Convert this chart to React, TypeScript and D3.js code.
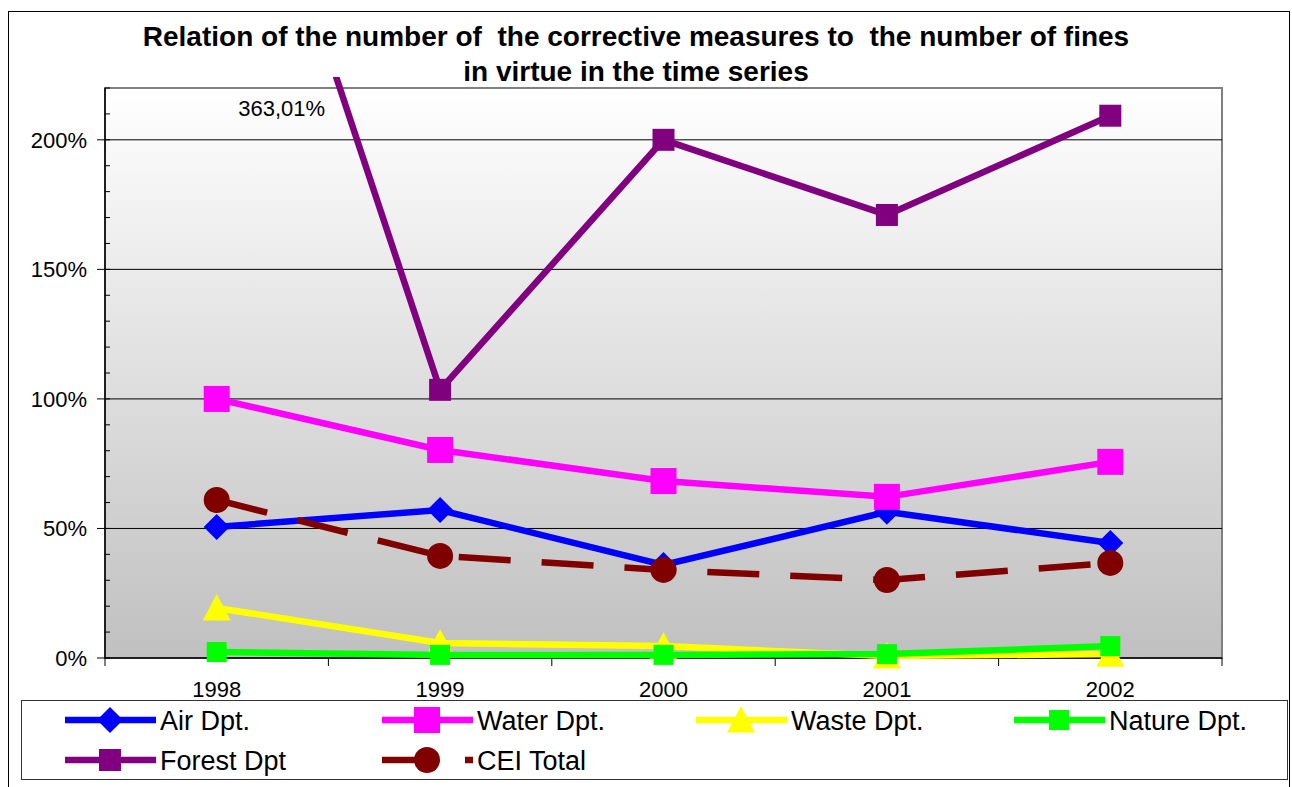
import React from 'react';
import * as d3 from 'd3';

const years = ['1998', '1999', '2000', '2001', '2002'];
const airDpt = [0.506, 0.571, 0.359, 0.564, 0.444];
const waterDpt = [1.0, 0.803, 0.683, 0.622, 0.757];
const wasteDpt = [0.193, 0.058, 0.046, 0.008, 0.015];
const natureDpt = [0.023, 0.012, 0.012, 0.015, 0.046];
const forestDpt = [3.6301, 1.035, 2.0, 1.71, 2.093];
const ceiTotal = [0.61, 0.394, 0.34, 0.301, 0.367];
const yTicks = [0, 0.5, 1, 1.5, 2];

const FONT = '"Liberation Sans", Arial, sans-serif';

type Shape = 'diamond' | 'square' | 'triangle' | 'circle';
const series: { name: string; values: number[]; color: string; shape: Shape; size: number; dash?: string }[] = [
  { name: 'Air Dpt.', values: airDpt, color: '#0000ff', shape: 'diamond', size: 26 },
  { name: 'Water Dpt.', values: waterDpt, color: '#ff00ff', shape: 'square', size: 26 },
  { name: 'Waste Dpt.', values: wasteDpt, color: '#ffff00', shape: 'triangle', size: 28 },
  { name: 'Nature Dpt.', values: natureDpt, color: '#00ff00', shape: 'square', size: 20 },
  { name: 'Forest Dpt', values: forestDpt, color: '#800080', shape: 'square', size: 22 },
  { name: 'CEI Total', values: ceiTotal, color: '#800000', shape: 'circle', size: 26, dash: '52 31' },
];

const Marker = ({ x, y, shape, size, color }: { x: number; y: number; shape: Shape; size: number; color: string }) => {
  const h = size / 2;
  if (shape === 'circle') return <circle cx={x} cy={y} r={h} fill={color} />;
  if (shape === 'square') return <rect x={x - h} y={y - h} width={size} height={size} fill={color} />;
  if (shape === 'diamond')
    return <path d={`M${x},${y - h}L${x + h},${y}L${x},${y + h}L${x - h},${y}Z`} fill={color} />;
  return <path d={`M${x},${y - h}L${x + h},${y + h * 0.9}L${x - h},${y + h * 0.9}Z`} fill={color} />;
};

export default function App() {
  const width = 1292;
  const height = 787;
  const plot = { left: 105, right: 1222, top: 88, bottom: 658 };

  const x = d3.scaleBand<string>().domain(years).range([plot.left, plot.right]).paddingInner(0).paddingOuter(0);
  const cx = (d: string) => (x(d) as number) + x.bandwidth() / 2;
  const y = d3.scaleLinear().domain([0, 2.2]).range([plot.bottom, plot.top]);
  const minorTicks = d3.range(0, 2.21, 0.1);

  const line = d3
    .line<number>()
    .x((_, i) => cx(years[i]))
    .y((d) => y(d));

  const fmt = (v: number) => (v * 100).toFixed(2).replace('.', ',') + '%';

  const legendRows = [
    [0, 1, 2, 3],
    [4, 5],
  ];
  const legendCols = [65, 382, 696, 1014];

  return (
    <svg width={width} height={height} style={{ position: 'absolute', left: 0, top: 0 }} fontFamily={FONT}>
      <defs>
        <linearGradient id="bg" x1="0" y1="0" x2="0" y2="1">
          <stop offset="0%" stopColor="#ffffff" />
          <stop offset="100%" stopColor="#c0c0c0" />
        </linearGradient>
        <clipPath id="clip">
          <rect x={0} y={77} width={width} height={height - 77} />
        </clipPath>
      </defs>
      <rect x={0} y={0} width={width} height={height} fill="#fff" />
      <rect x={8.5} y={11.5} width={1281} height={790} fill="#fff" stroke="#000" strokeWidth={1} />

      <text x={636} y={46} textAnchor="middle" fontWeight="bold" fontSize={28} style={{ whiteSpace: 'pre' }}>
        Relation of the number of  the corrective measures to  the number of fines
      </text>
      <text x={636} y={81} textAnchor="middle" fontWeight="bold" fontSize={28}>
        in virtue in the time series
      </text>

      <rect
        x={plot.left}
        y={plot.top}
        width={plot.right - plot.left}
        height={plot.bottom - plot.top}
        fill="url(#bg)"
        stroke="#808080"
        strokeWidth={2}
      />
      {yTicks.slice(1).map((t) => (
        <line key={t} x1={plot.left} x2={plot.right} y1={y(t)} y2={y(t)} stroke="#000" strokeWidth={1} />
      ))}

      {/* y axis */}
      <line x1={plot.left} x2={plot.left} y1={plot.top} y2={plot.bottom} stroke="#000" strokeWidth={1.5} />
      {minorTicks.map((t, i) => (
        <line key={i} x1={plot.left} x2={plot.left + 5} y1={y(t)} y2={y(t)} stroke="#000" strokeWidth={1} />
      ))}
      {yTicks.map((t) => (
        <g key={t}>
          <line x1={plot.left - 8} x2={plot.left} y1={y(t)} y2={y(t)} stroke="#000" strokeWidth={1} />
          <text x={plot.left - 18} y={y(t) + 8} textAnchor="end" fontSize={22}>
            {d3.format('.0%')(t)}
          </text>
        </g>
      ))}

      {/* x axis */}
      <line x1={plot.left} x2={plot.right} y1={plot.bottom} y2={plot.bottom} stroke="#000" strokeWidth={1.5} />
      {[...years.map((d) => x(d) as number), plot.right].map((v, i) => (
        <line key={i} x1={v} x2={v} y1={plot.bottom} y2={plot.bottom + 8} stroke="#000" strokeWidth={1} />
      ))}
      {years.map((d) => (
        <text key={d} x={cx(d)} y={697} textAnchor="middle" fontSize={22}>
          {d}
        </text>
      ))}

      <g clipPath="url(#clip)">
        {series.map((s) => (
          <g key={s.name}>
            <path d={line(s.values) || ''} fill="none" stroke={s.color} strokeWidth={6.5} strokeDasharray={s.dash} />
            {s.values.map((v, i) => (
              <Marker key={i} x={cx(years[i])} y={y(v)} shape={s.shape} size={s.size} color={s.color} />
            ))}
          </g>
        ))}
      </g>

      <text x={cx(years[0]) + 65} y={116} textAnchor="middle" fontSize={22}>
        {fmt(forestDpt[0])}
      </text>

      {/* legend */}
      <rect x={21.5} y={700.5} width={1266} height={79} fill="#fff" stroke="#333" strokeWidth={1} />
      {legendRows.map((row, r) =>
        row.map((si, c) => {
          const s = series[si];
          const lx = legendCols[c];
          const ly = 720 + r * 40;
          return (
            <g key={s.name}>
              <line x1={lx} x2={lx + 91} y1={ly} y2={ly} stroke={s.color} strokeWidth={6.5} strokeDasharray={s.dash} />
              <Marker x={lx + 45} y={ly} shape={s.shape} size={s.size} color={s.color} />
              <text x={lx + 95} y={ly + 10} fontSize={27}>
                {s.name}
              </text>
            </g>
          );
        })
      )}
    </svg>
  );
}
